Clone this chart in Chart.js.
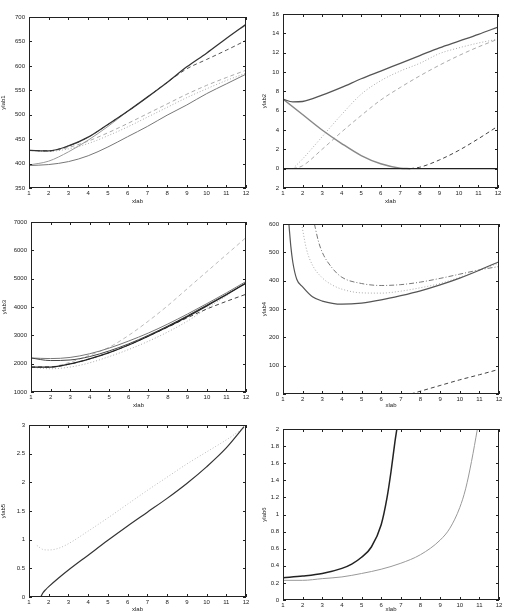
<!DOCTYPE html>
<html>
<head>
<meta charset="utf-8">
<script src="https://cdn.jsdelivr.net/npm/chart.js@4"></script>
<style>
  body { margin: 0; background: #fff; }
  #contenedor { position: relative; width: 505px; height: 613px; }
  canvas { position: absolute; }
</style>
</head>
<body>
<div id="contenedor">
  <canvas id="g1" width="252" height="206" style="left:0;top:0"></canvas>
  <canvas id="g2" width="252" height="206" style="left:253px;top:0"></canvas>
  <canvas id="g3" width="252" height="204" style="left:0;top:206px"></canvas>
  <canvas id="g4" width="252" height="204" style="left:253px;top:206px"></canvas>
  <canvas id="g5" width="252" height="203" style="left:0;top:410px"></canvas>
  <canvas id="g6" width="252" height="203" style="left:253px;top:410px"></canvas>
</div>
<script>
// eje x comun
const xs = [1, 2, 3, 4, 5, 6, 7, 8, 9, 10, 11, 12];

// panel 1
const y1a = [427, 426, 436, 454, 480, 507, 536, 566, 598, 626, 656, 685];
const y1b = [427, 426, 436, 454, 480, 507, 536, 566, 594, 613, 632, 652];
const x1c = [1, 2, 3, 4, 5, 6];
const y1c = [397, 405, 424, 448, 476, 507];
const y1d = [427, 426, 433, 446, 463, 482, 502, 522, 542, 560, 576, 591];
const y1e = [427, 425, 430, 441, 457, 475, 495, 515, 535, 553, 570, 585];
const y1f = [396, 398, 404, 416, 434, 455, 476, 499, 520, 543, 563, 583];

// panel 2
const x2a = [1, 1.5, 2, 3, 4, 5, 6, 7, 8, 9, 10, 11, 12];
const y2a = [7.2, 6.9, 6.95, 7.6, 8.4, 9.3, 10.1, 10.9, 11.7, 12.5, 13.2, 13.9, 14.65];
const x2b = [1, 2, 3, 4, 5, 6, 7, 7.5];
const y2b = [7.2, 5.6, 4.0, 2.6, 1.35, 0.5, 0.05, 0];
const x2c = [7.5, 8, 9, 10, 11, 12];
const y2c = [0, 0.15, 0.9, 1.9, 3.1, 4.4];
const x2d = [1.5, 2, 3, 4, 5, 6, 7, 8, 9, 10, 11, 12];
const y2d = [0, 1.0, 3.3, 5.6, 7.7, 9.1, 10.1, 10.9, 11.9, 12.5, 13.0, 13.4];
const y2e = [0, 0.3, 2.0, 3.8, 5.5, 7.1, 8.4, 9.6, 10.7, 11.7, 12.6, 13.4];
const x2f = [1, 12];
const y2f = [0, 0];

// panel 3
const y3a = [2200, 2180, 2220, 2350, 2550, 2800, 3080, 3400, 3750, 4120, 4500, 4900];
const y3b = [2200, 2110, 2130, 2250, 2450, 2700, 3000, 3330, 3690, 4070, 4450, 4850];
const y3c = [1880, 1880, 1990, 2170, 2390, 2660, 2970, 3300, 3660, 4040, 4430, 4840];
const y3d = [1880, 1890, 2050, 2300, 2580, 3000, 3500, 4050, 4650, 5250, 5850, 6450];
const y3e = [1880, 1880, 1990, 2170, 2390, 2660, 2970, 3290, 3620, 3930, 4200, 4450];
const y3f = [1880, 1820, 1880, 2030, 2250, 2500, 2790, 3120, 3500, 3950, 4400, 4880];

// panel 4
const x4a = [1.3, 1.4, 1.5, 1.7, 2, 2.5, 3, 4, 5, 6, 7, 8, 9, 10, 11, 12];
const y4a = [600, 520, 465, 405, 378, 343, 328, 317, 321, 332, 347, 364, 385, 409, 437, 467];
const x4b = [1.95, 2, 2.2, 2.5, 3, 3.5, 4, 5, 6, 7, 8, 9, 10, 11, 12];
const y4b = [600, 580, 510, 455, 410, 385, 370, 357, 356, 363, 375, 390, 412, 437, 462];
const x4c = [2.6, 2.8, 3, 3.5, 4, 5, 6, 7, 8, 9, 10, 11, 12];
const y4c = [600, 540, 500, 445, 412, 390, 383, 386, 395, 408, 423, 438, 450];
const x4d = [7.5, 8, 9, 10, 11, 12];
const y4d = [0, 10, 30, 50, 68, 87];

// panel 5
const x5a = [1.6, 1.7, 1.85, 2, 2.5, 3, 4, 5, 6, 7, 8, 9, 10, 11, 11.9];
const y5a = [0, 0.07, 0.13, 0.18, 0.33, 0.47, 0.73, 0.99, 1.24, 1.48, 1.72, 1.98, 2.27, 2.6, 2.97];
const x5b = [1.4, 1.7, 2, 2.5, 3, 4, 5, 6, 7, 8, 9, 10, 11, 11.9];
const y5b = [0.9, 0.83, 0.82, 0.85, 0.93, 1.15, 1.38, 1.62, 1.86, 2.09, 2.32, 2.53, 2.74, 2.95];

// panel 6
const x6a = [1, 2, 3, 4, 4.5, 5, 5.5, 6, 6.3, 6.5, 6.7, 6.8];
const y6a = [0.26, 0.28, 0.31, 0.37, 0.42, 0.5, 0.62, 0.88, 1.2, 1.5, 1.85, 2.0];
const x6b = [1, 2, 3, 4, 5, 6, 7, 8, 9, 9.5, 10, 10.3, 10.6, 10.9];
const y6b = [0.23, 0.23, 0.25, 0.27, 0.31, 0.36, 0.43, 0.53, 0.7, 0.84, 1.08, 1.3, 1.62, 2.0];

const RAYA = [4, 3];
const PUNTO = [1, 2];
const RAYAPUNTO = [5, 2, 1, 2];

function serie(x, y, color, dash, ancho) {
  return {
    data: x.map((v, i) => ({ x: v, y: y[i] })),
    borderColor: color,
    borderWidth: ancho || 1,
    borderDash: dash || [],
    pointRadius: 0,
    fill: false,
    cubicInterpolationMode: 'monotone'
  };
}

// marco y ticks hacia adentro en los cuatro lados (estilo gnuplot)
const marco = {
  id: 'marco',
  afterDraw(chart) {
    const { ctx, chartArea: a, scales } = chart;
    ctx.save();
    ctx.strokeStyle = '#222';
    ctx.lineWidth = 1;
    ctx.strokeRect(a.left + 0.5, a.top + 0.5, a.right - a.left - 1, a.bottom - a.top - 1);
    ctx.beginPath();
    scales.x.ticks.forEach(t => {
      const px = Math.round(scales.x.getPixelForValue(t.value)) + 0.5;
      ctx.moveTo(px, a.bottom); ctx.lineTo(px, a.bottom - 3);
      ctx.moveTo(px, a.top); ctx.lineTo(px, a.top + 3);
    });
    scales.y.ticks.forEach(t => {
      const py = Math.round(scales.y.getPixelForValue(t.value)) + 0.5;
      ctx.moveTo(a.left, py); ctx.lineTo(a.left + 3, py);
      ctx.moveTo(a.right, py); ctx.lineTo(a.right - 3, py);
    });
    ctx.stroke();
    ctx.restore();
  }
};

const fuente = { family: 'Liberation Sans, Arial, sans-serif', size: 6 };

function crearPanel(id, p) {
  new Chart(document.getElementById(id), {
    type: 'line',
    data: { datasets: p.series },
    options: {
      responsive: false,
      animation: false,
      layout: { padding: { top: p.arriba, right: p.derecha, left: 0, bottom: 0 } },
      plugins: { legend: { display: false }, tooltip: { enabled: false } },
      scales: {
        x: {
          type: 'linear', min: 1, max: 12,
          grid: { display: false, drawTicks: false }, border: { display: false },
          ticks: { stepSize: 1, padding: 2, color: '#222', font: fuente, maxRotation: 0 },
          title: { display: true, text: 'xlab', color: '#222', font: fuente, padding: { top: 0, bottom: p.tituloX } },
          afterFit: s => { s.height = p.altoX; }
        },
        y: {
          type: 'linear', min: p.min, max: p.max,
          grid: { display: false, drawTicks: false }, border: { display: false },
          ticks: { stepSize: p.paso, padding: 4, color: '#222', font: fuente, callback: p.etiqueta },
          title: { display: true, text: p.ylab, color: '#222', font: fuente, padding: { top: p.tituloY, bottom: 0 } },
          afterFit: s => { s.width = p.anchoY; }
        }
      }
    },
    plugins: [marco]
  });
}

crearPanel('g1', {
  ylab: 'ylab1', min: 350, max: 700, paso: 50,
  arriba: 17, derecha: 6, anchoY: 29, altoX: 18, tituloX: 1, tituloY: 0,
  series: [
    serie(xs, y1a, '#333', null, 1.3),
    serie(xs, y1b, '#555', RAYA),
    serie(x1c, y1c, '#999'),
    serie(xs, y1d, '#aaa', RAYA),
    serie(xs, y1e, '#aaa', PUNTO),
    serie(xs, y1f, '#777')
  ]
});

crearPanel('g2', {
  ylab: 'ylab2', min: -2, max: 16, paso: 2,
  etiqueta: v => String(Math.abs(v)),
  arriba: 14, derecha: 7, anchoY: 30, altoX: 18, tituloX: 1, tituloY: 8,
  series: [
    serie(x2f, y2f, '#222', null, 1.2),
    serie(x2a, y2a, '#555', null, 1.3),
    serie(x2b, y2b, '#888', null, 1.5),
    serie(x2c, y2c, '#444', RAYA),
    serie(x2d, y2d, '#aaa', PUNTO),
    serie(x2d, y2e, '#aaa', RAYA)
  ]
});

crearPanel('g3', {
  ylab: 'ylab3', min: 1000, max: 7000, paso: 1000,
  arriba: 16, derecha: 6, anchoY: 31, altoX: 18, tituloX: 1, tituloY: 1,
  series: [
    serie(xs, y3c, '#222', null, 1.2),
    serie(xs, y3b, '#444'),
    serie(xs, y3a, '#777'),
    serie(xs, y3e, '#444', RAYA),
    serie(xs, y3d, '#bbb', RAYA),
    serie(xs, y3f, '#aaa', PUNTO)
  ]
});

crearPanel('g4', {
  ylab: 'ylab4', min: 0, max: 600, paso: 100,
  arriba: 18, derecha: 6, anchoY: 30, altoX: 16, tituloX: 1, tituloY: 8,
  series: [
    serie(x4a, y4a, '#555', null, 1.2),
    serie(x4b, y4b, '#aaa', PUNTO),
    serie(x4c, y4c, '#777', RAYAPUNTO),
    serie(x4d, y4d, '#444', RAYA)
  ]
});

crearPanel('g5', {
  ylab: 'ylab5', min: 0, max: 3, paso: 0.5,
  arriba: 15, derecha: 6, anchoY: 29, altoX: 16, tituloX: 0, tituloY: 0,
  series: [
    serie(x5a, y5a, '#333', null, 1.2),
    serie(x5b, y5b, '#bbb', PUNTO)
  ]
});

crearPanel('g6', {
  ylab: 'ylab6', min: 0, max: 2, paso: 0.2,
  arriba: 19, derecha: 6, anchoY: 30, altoX: 13, tituloX: 0, tituloY: 8,
  series: [
    serie(x6a, y6a, '#222', null, 1.5),
    serie(x6b, y6b, '#999')
  ]
});
</script>
</body>
</html>
